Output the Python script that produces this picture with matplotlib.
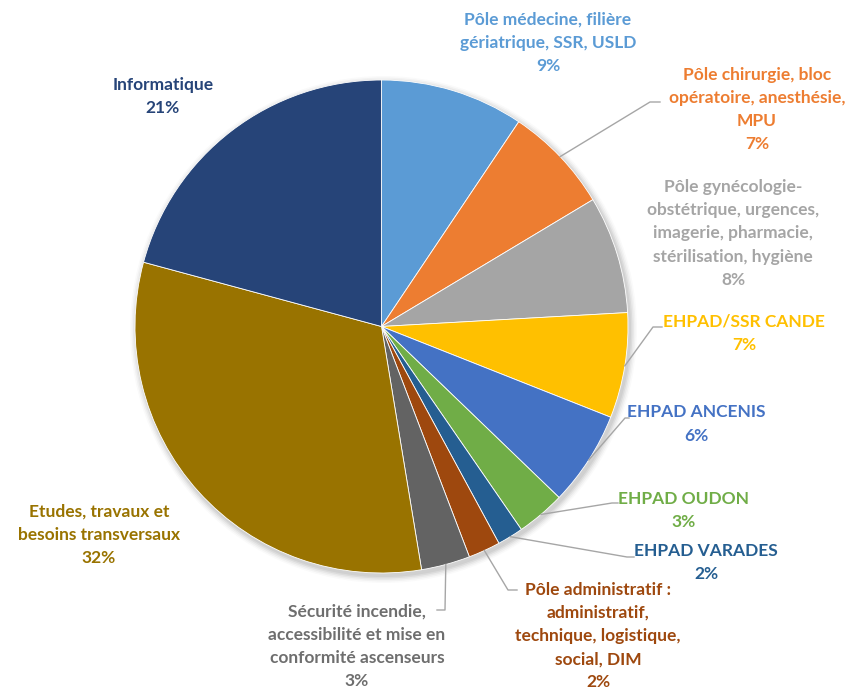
import numpy as np
import matplotlib
matplotlib.use("Agg")
import matplotlib.pyplot as plt
from matplotlib.patches import Circle

labels = [
    "Pôle médecine, filière\ngériatrique, SSR, USLD",
    "Pôle chirurgie, bloc\nopératoire, anesthésie,\nMPU",
    "Pôle gynécologie-\nobstétrique, urgences,\nimagerie, pharmacie,\nstérilisation, hygiène",
    "EHPAD/SSR CANDE",
    "EHPAD ANCENIS",
    "EHPAD OUDON",
    "EHPAD VARADES",
    "Pôle administratif :\nadministratif,\ntechnique, logistique,\nsocial, DIM",
    "Sécurité incendie,\naccessibilité et mise en\nconformité ascenseurs",
    "Etudes, travaux et\nbesoins transversaux",
    "Informatique",
]
values = [9.4, 7.0, 7.7, 6.9, 6.2, 3.2, 1.7, 2.1, 3.2, 31.8, 20.8]
colors = ["#5B9BD5", "#ED7D31", "#A5A5A5", "#FFC000", "#4472C4", "#70AD47",
          "#255E91", "#9E480E", "#636363", "#997300", "#264478"]
text_colors = ["#5B9BD5", "#ED7D31", "#A5A5A5", "#FFC000", "#4472C4", "#70AD47",
               "#255E91", "#9E480E", "#6E6E6E", "#997300", "#264478"]

W, H = 854, 689
fig = plt.figure(figsize=(W / 100, H / 100), dpi=100)
ax = fig.add_axes([0, 0, 1, 1])

cx, cy, R = 381.5, H - 326.5, 246.5

# soft shadow
for i, a in enumerate([0.05, 0.05, 0.04, 0.03, 0.02]):
    ax.add_patch(Circle((cx + 2, cy - 3), R + 1 + i * 1.5, color="black", alpha=a,
                        lw=0, zorder=0))

wedges, _ = ax.pie(values, colors=colors, startangle=90, counterclock=False,
                   center=(cx, cy), radius=R, frame=False,
                   wedgeprops=dict(edgecolor="white", linewidth=0.6))
for w in wedges:
    w.set_zorder(2)

ax.set_xlim(0, W)
ax.set_ylim(0, H)
ax.set_aspect("equal")
ax.axis("off")

# label layout: (center x px, center y px of text block)
label_pos = [(548, 43), (757, 109.5), (733, 233.5), (744, 333.5), (696, 424),
             (684, 510.5), (706, 562.5), (598, 636), (357, 646.5), (99, 535), (163, 96.5)]
# leader elbows in px (elbow, end) or None
leaders = [None,
           ((650, 102), (660, 102)),
           None,
           ((653, 327), (662, 327)),
           ((625, 418), (629, 418)),
           ((612, 503), (618, 503)),
           ((627, 557), (634, 557)),
           ((508, 590), (517, 590)),
           ((445, 610), (437, 610)),
           None,
           None]

total = sum(values)
for w, lab, val, tc, pos, ld in zip(wedges, labels, values, text_colors, label_pos, leaders):
    pct = f"{round(val / total * 100):d}%"
    ax.text(pos[0], H - pos[1], lab + "\n" + pct, ha="center", va="center",
            color=tc, fontsize=12.5, fontweight="bold", family="Lato",
            linespacing=1.55, zorder=5)
    if ld is not None:
        ang = np.deg2rad((w.theta1 + w.theta2) / 2)
        sx, sy = cx + R * np.cos(ang), cy + R * np.sin(ang)
        xs = [sx, ld[0][0], ld[1][0]]
        ys = [sy, H - ld[0][1], H - ld[1][1]]
        ax.plot(xs, ys, color="#A6A6A6", lw=1.0, zorder=3)

fig.savefig("out.png", dpi=100)
